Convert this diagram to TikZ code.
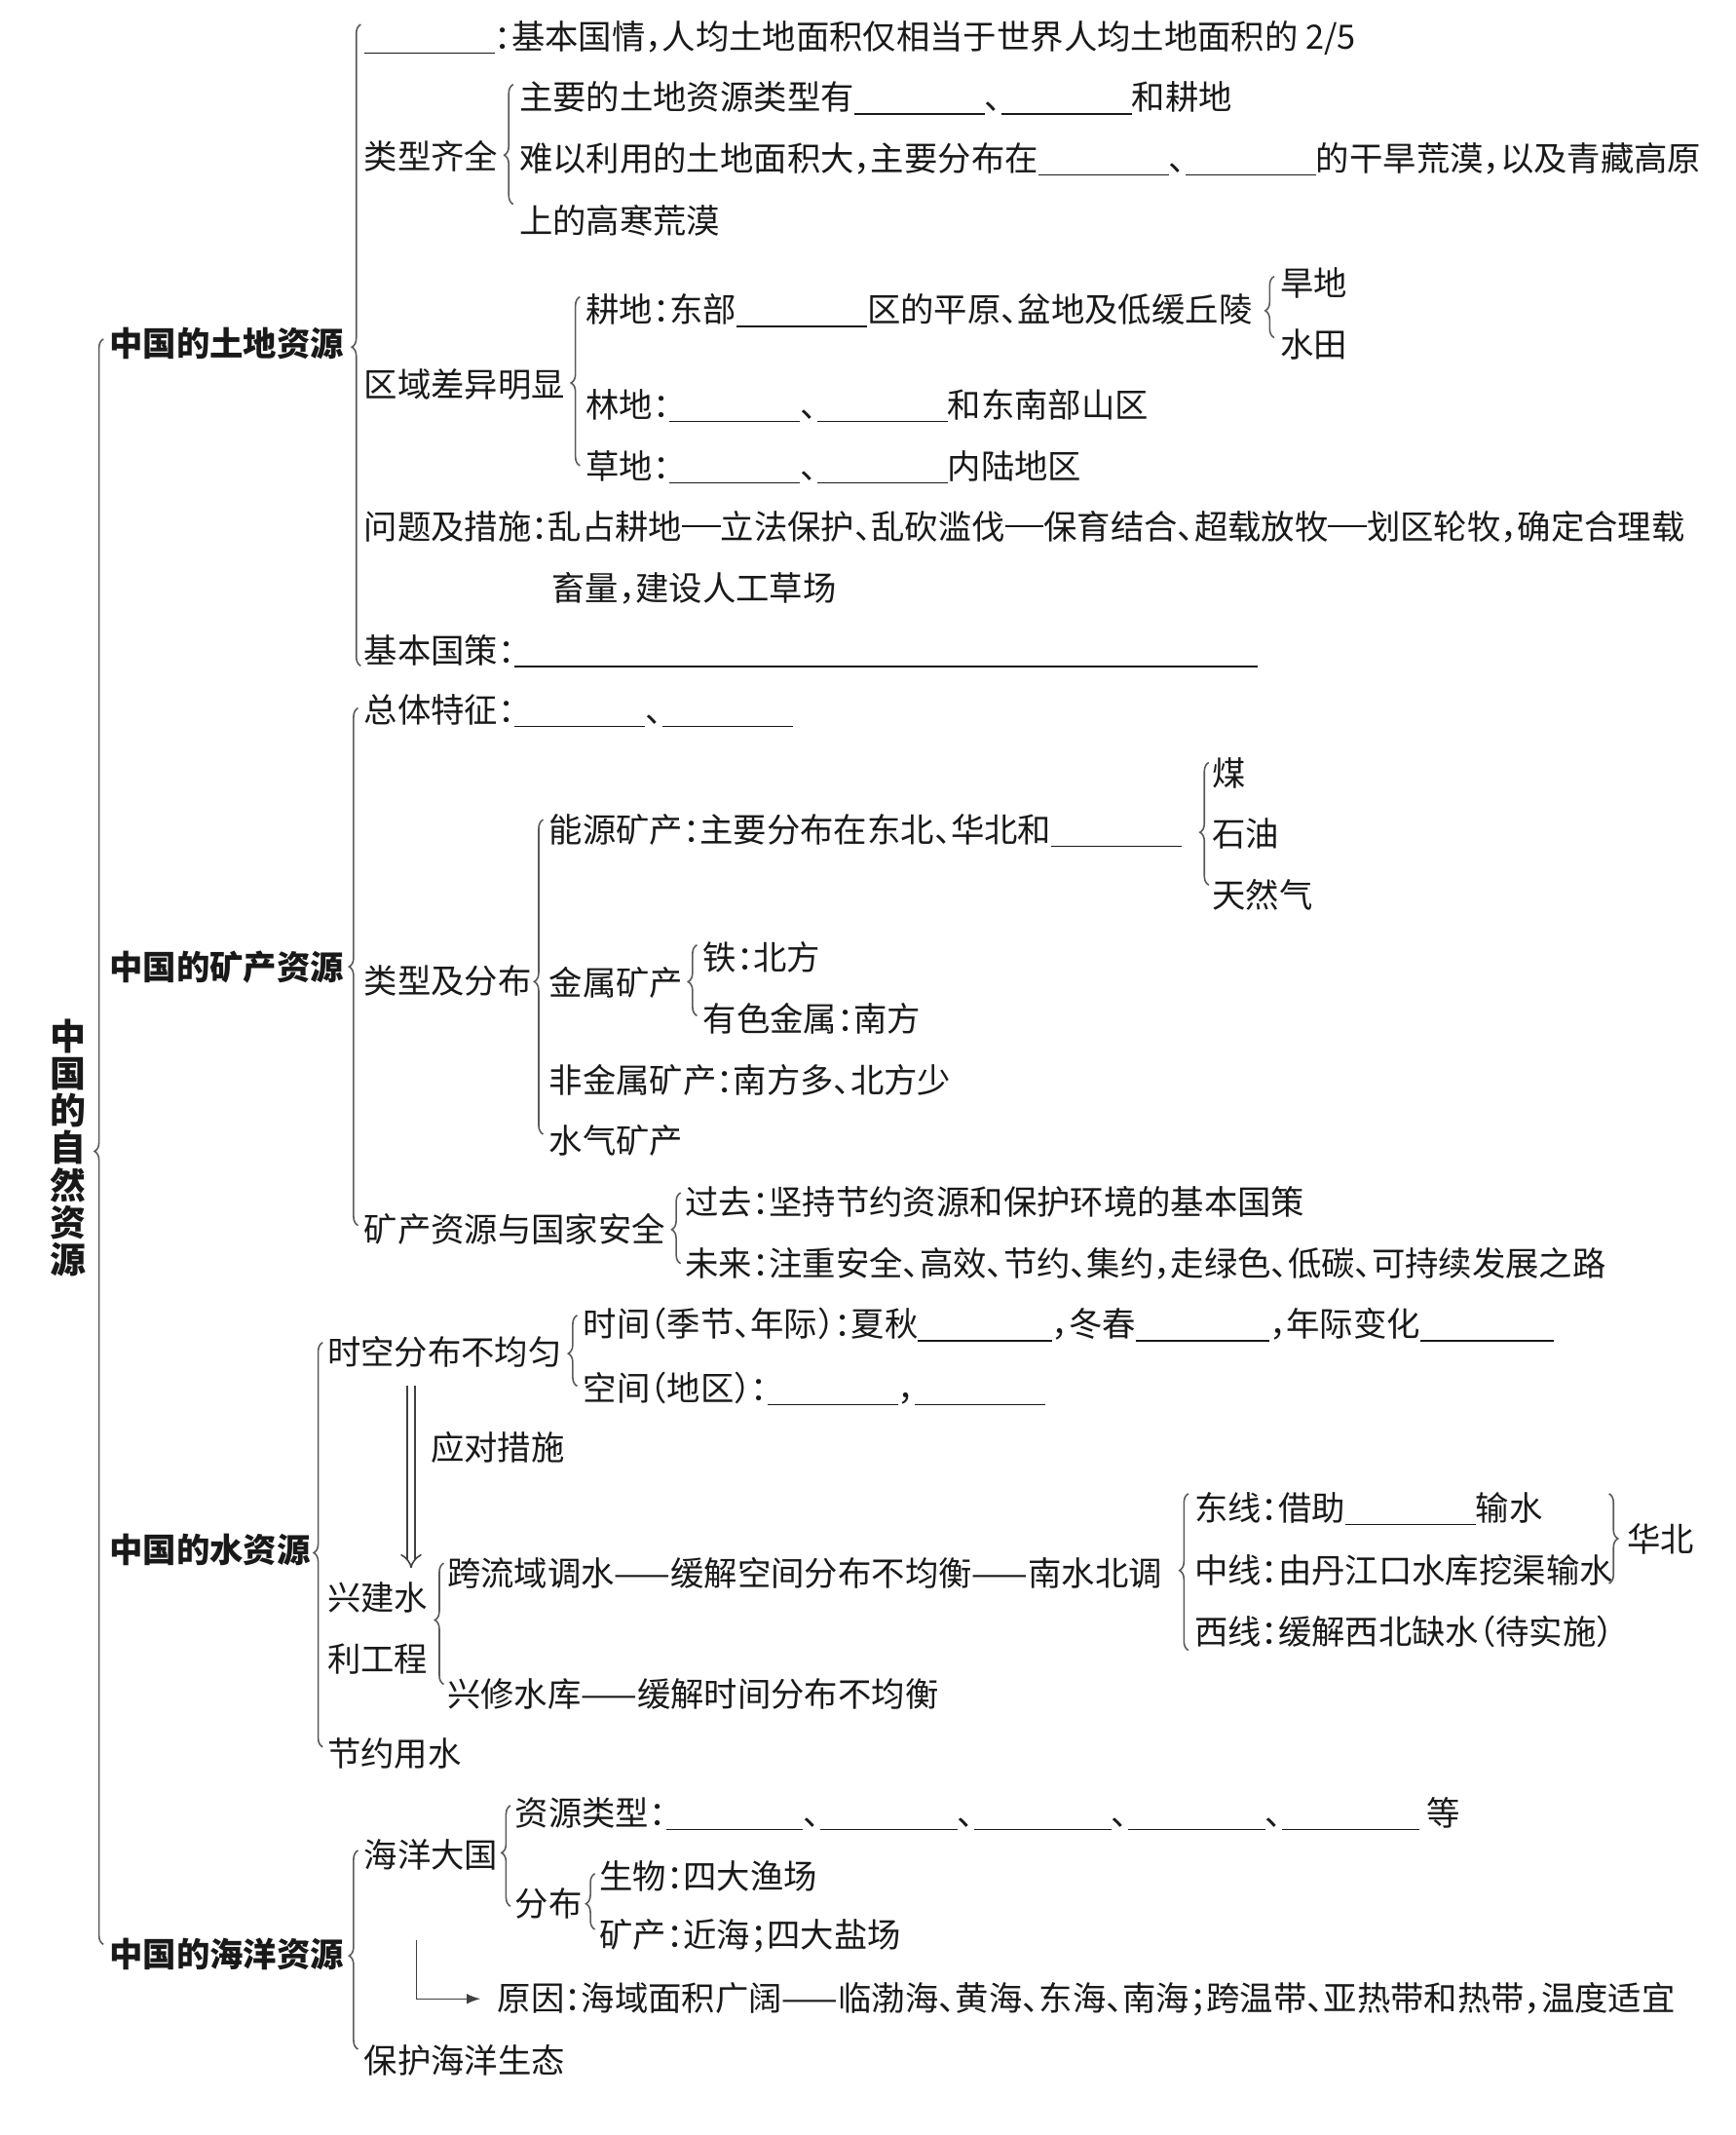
\documentclass[tikz,border=0pt]{standalone}
\usepackage{fontspec}
\setmainfont{Noto Sans CJK SC}[RawFeature=+halt]
\usetikzlibrary{decorations.pathreplacing,arrows.meta}
\newcommand\blank[1][3.9em]{\rule[-0.14em]{#1}{0.45pt}}
\newcommand\stroke{\rule[0.36em]{1.15em}{0.5pt}}

\begin{document}
\begin{tikzpicture}[
    x=0.01397cm, y=-0.01397cm,
    every node/.style={anchor=west, inner sep=0pt, text=black!90, font=\fontsize{9.78}{12}\selectfont},
    head/.style={font=\fontsize{9.78}{12}\selectfont\bfseries},
    title/.style={anchor=center, align=center, font=\fontsize{10.5}{10.9}\selectfont\bfseries},
    brc/.style={decorate, draw=black!65, line width=0.45pt, decoration={brace, amplitude=2.6pt, aspect=#1}},
    brc/.default=0.5,
    dblarrow/.style={draw=black!75, line width=0.45pt, double distance=1.7pt, -{Implies}},
    turn/.style={draw=black!75, line width=0.45pt, -{Latex[length=4pt, width=3pt]}}
]
\useasboundingbox (0,0) rectangle (1275,1568);

\node[title] (root) at (50,843) {中\\国\\的\\自\\然\\资\\源};

\node[head] (land) at (80,252) {中国的土地资源};
\node (l1) at (267,28) {\blank：基本国情，人均土地面积仅相当于世界人均土地面积的 2/5};
\node (l2) at (267,115) {类型齐全};
\node (l21) at (381,72) {主要的土地资源类型有\blank、\blank 和耕地};
\node (l22) at (381,117) {难以利用的土地面积大，主要分布在\blank、\blank 的干旱荒漠，以及青藏高原};
\node (l23) at (381,162) {上的高寒荒漠};
\node (l3) at (267,282) {区域差异明显};
\node (l31) at (430,228) {耕地：东部\blank 区的平原、盆地及低缓丘陵};
\node (l311) at (940,208) {旱地};
\node (l312) at (940,253) {水田};
\node (l32) at (430,298) {林地：\blank、\blank 和东南部山区};
\node (l33) at (430,343) {草地：\blank、\blank 内陆地区};
\node (l4) at (267,387) {问题及措施：乱占耕地\stroke 立法保护、乱砍滥伐\stroke 保育结合、超载放牧\stroke 划区轮牧，确定合理载};
\node (l4b) at (405,432) {畜量，建设人工草场};
\node (l5) at (267,478) {基本国策：\blank[22.2em]};

\node[head] (mine) at (80,710) {中国的矿产资源};
\node (m1) at (267,522) {总体特征：\blank、\blank};
\node (m2) at (267,720) {类型及分布};
\node (m21) at (403,610) {能源矿产：主要分布在东北、华北和\blank};
\node (m211) at (890,568) {煤};
\node (m212) at (890,612) {石油};
\node (m213) at (890,657) {天然气};
\node (m22) at (403,722) {金属矿产};
\node (m221) at (516,703) {铁：北方};
\node (m222) at (516,748) {有色金属：南方};
\node (m23) at (403,793) {非金属矿产：南方多、北方少};
\node (m24) at (403,838) {水气矿产};
\node (m3) at (267,903) {矿产资源与国家安全};
\node (m31) at (503,883) {过去：坚持节约资源和保护环境的基本国策};
\node (m32) at (503,928) {未来：注重安全、高效、节约、集约，走绿色、低碳、可持续发展之路};

\node[head] (water) at (80,1138) {中国的水资源};
\node (w1) at (240,993) {时空分布不均匀};
\node (w11) at (428,973) {时间（季节、年际）：夏秋\blank[4em]，冬春\blank[4em]，年际变化\blank[4em]};
\node (w12) at (428,1020) {空间（地区）：\blank，\blank};
\node (wd) at (316,1063) {应对措施};
\node[align=left, font=\fontsize{9.78}{17.8}\selectfont] (w2) at (240,1196) {兴建水\\利工程};
\node (w21) at (328,1155) {跨流域调水——缓解空间分布不均衡——南水北调};
\node (w211) at (877,1108) {东线：借助\blank 输水};
\node (w212) at (877,1153) {中线：由丹江口水库挖渠输水};
\node (w213) at (877,1198) {西线：缓解西北缺水（待实施）};
\node (hb) at (1195,1130) {华北};
\node (w22) at (328,1244) {兴修水库——缓解时间分布不均衡};
\node (w3) at (240,1288) {节约用水};

\node[head] (sea) at (80,1435) {中国的海洋资源};
\node (o1) at (267,1362) {海洋大国};
\node (o11) at (378,1332) {资源类型：\blank[4.1em]、\blank[4.1em]、\blank[4.1em]、\blank[4.1em]、\blank[4.1em] 等};
\node (o12) at (378,1398) {分布};
\node (o121) at (440,1378) {生物：四大渔场};
\node (o122) at (440,1422) {矿产：近海；四大盐场};
\node (o2) at (365,1468) {原因：海域面积广阔——临渤海、黄海、东海、南海；跨温带、亚热带和热带，温度适宜};
\node (o3) at (267,1513) {保护海洋生态};

\draw[brc=0.494] (76,1428) -- (76,249);
\draw[brc=0.497] (265,489) -- (265,18);
\draw[brc=0.41] (377,150) -- (377,62);
\draw[brc=0.49] (426,342) -- (426,218);
\draw[brc=0.44] (936,248) -- (936,203);
\draw[brc] (263,900) -- (263,520);
\draw[brc=0.485] (399,833) -- (399,602);
\draw[brc=0.43] (888,650) -- (888,560);
\draw[brc=0.48] (512,746) -- (512,694);
\draw[brc=0.48] (500,928) -- (500,876);
\draw[brc=0.48] (237,1283) -- (237,986);
\draw[brc=0.46] (424,1018) -- (424,966);
\draw[brc=0.53] (326,1237) -- (326,1148);
\draw[brc=0.51] (873,1212) -- (873,1097);
\draw[brc] (1182,1097) -- (1182,1163);
\draw[brc=0.47] (263,1505) -- (263,1359);
\draw[brc=0.53] (375,1400) -- (375,1326);
\draw[brc=0.46] (437,1417) -- (437,1376);

\coordinate (dbl) at (302,0);
\draw[dblarrow, shorten <=5pt, shorten >=4pt] (w1.south -| dbl) -- (w2.north -| dbl);
\coordinate (lo) at (306,1425);
\draw[turn, shorten >=4.8pt] (lo) |- (o2.west);
\end{tikzpicture}
\end{document}
